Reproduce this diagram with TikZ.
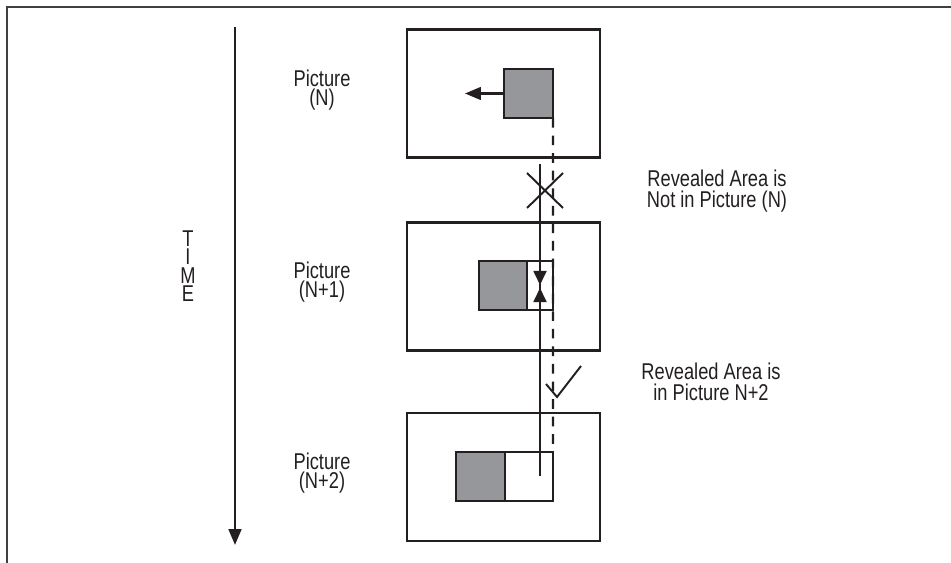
\documentclass[tikz,border=0pt]{standalone}
\usepackage{fontspec}
\setmainfont{Liberation Sans}[FakeStretch=0.8]
\usetikzlibrary{arrows.meta}
\definecolor{ink}{RGB}{35,31,32}
\definecolor{shade}{RGB}{150,151,155}

\tikzset{
  pane/.style={draw=ink, line width=1.4pt, rectangle, inner sep=0pt, minimum width=3.86cm, minimum height=2.56cm},
  block/.style={draw=ink, line width=1.4pt, fill=shade, rectangle, inner sep=0pt, outer sep=0pt, minimum width=0.98cm, minimum height=0.98cm},
  hole/.style={draw=ink, line width=1.4pt, fill=white, rectangle, inner sep=0pt, outer sep=0pt, minimum height=0.98cm},
  lbl/.style={text=ink, align=center, inner sep=0pt, font=\fontsize{13}{10.8}\selectfont},
  note/.style={text=ink, align=center, inner sep=0pt, font=\fontsize{13}{12}\selectfont},
  letter/.style={text=ink, inner sep=0pt, font=\fontsize{13}{13}\selectfont},
  bigtip/.style={-{Triangle[length=9pt,width=7.2pt]}},
  smalltip/.style={-{Triangle[length=8pt,width=7.4pt]}},
}

\begin{document}
\begin{tikzpicture}[x=0.02cm,y=-0.02cm,draw=ink]
  \useasboundingbox (0,0) rectangle (951,563);
  \draw[line width=0.9pt, draw=black!75] (951,7) -- (7,7) -- (7,563);

  % time axis
  \coordinate (t0) at (235,27);
  \coordinate (t1) at (235,545);
  \draw[line width=1.4pt, bigtip] (t0) -- (t1);
  \foreach \ch [count=\i] in {T,I,M,E}
    \node[letter] (time\i) at (188,220+18.5*\i) {\ch};

  % the three pictures
  \node[pane] (picA) at (503.5,93.5) {};
  \node[pane] (picB) at (503.5,286.5) {};
  \node[pane] (picC) at (503.5,477) {};
  \node[lbl] (nameA) at (322,90) {Picture\\(N)};
  \node[lbl] (nameB) at (322,282) {Picture\\(N+1)};
  \node[lbl] (nameC) at (322,473) {Picture\\(N+2)};

  % moving block
  \node[block] (blkA) at (528.5,93.5) {};
  \node[hole, minimum width=0.52cm] (gapB) at (540,285.5) {};
  \node[block, minimum width=0.96cm, anchor=east] (blkB) at (gapB.west) {};
  \node[hole, minimum width=0.96cm] (gapC) at (529,476.5) {};
  \node[block, anchor=east] (blkC) at (gapC.west) {};

  \coordinate (go) at (465,93.5);
  \draw[line width=1.2pt, bigtip] (blkA.west) -- (go);

  % edge of the block, followed down
  \coordinate (edgeA) at (blkA.south east);
  \coordinate (edgeC) at (553,448);
  \draw[line width=1.2pt, dash pattern=on 5.5pt off 4.5pt] (edgeA) -- (edgeC);

  \coordinate (lookA) at (540,164);
  \coordinate (lookC) at (540,476);
  \draw[line width=1.2pt] (lookA) -- (lookC);
  \draw[line width=1.1pt, smalltip] (gapB.north) -- (540,285);
  \draw[line width=1.1pt, smalltip] (gapB.south) -- (540,288);

  % not found / found
  \draw[line width=1.1pt] (527,173) -- (563,208) (527,208) -- (563,173);
  \draw[line width=1.1pt] (546,384) -- (557,397) -- (581,366);

  \node[note] (miss) at (717,191) {Revealed Area is\\Not in Picture (N)};
  \node[note] (hit) at (711,382) {Revealed Area is\\in Picture N+2};
\end{tikzpicture}
\end{document}
